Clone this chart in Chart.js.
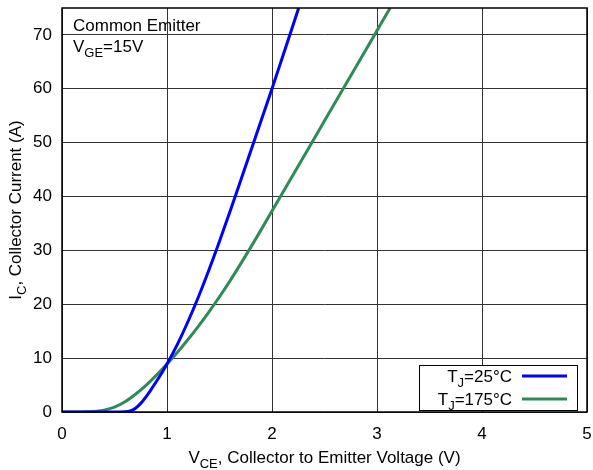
<!DOCTYPE html>
<html>
<head>
<meta charset="utf-8">
<script src="https://cdn.jsdelivr.net/npm/chart.js@4"></script>
<style>
  html, body { margin: 0; padding: 0; background: #fff; }
</style>
</head>
<body>
<canvas id="icChart" width="593" height="470"></canvas>
<script>
// Output characteristics
const vce25 = [0, 0.55, 0.6, 0.65, 0.7, 0.75, 0.8, 0.85, 0.9, 0.95, 1.0, 1.1, 1.2, 1.3, 1.4, 1.5, 1.6, 1.7, 1.8, 1.9, 2.0, 2.1, 2.2, 2.254];
const ic25  = [0, 0, 0.03, 0.2, 0.7, 1.6, 2.8, 4.2, 5.7, 7.25, 8.9, 12.6, 16.8, 21.4, 26.4, 31.7, 37.2, 42.9, 48.6, 54.3, 60.0, 65.9, 71.8, 75.0];

const vce175 = [0, 0.2, 0.3, 0.4, 0.5, 0.6, 0.7, 0.8, 0.9, 1.0, 1.1, 1.2, 1.3, 1.4, 1.5, 1.6, 1.7, 1.8, 1.9, 2.0, 2.1, 2.2, 2.3, 2.4, 2.5, 2.6, 2.7, 2.8, 2.9, 3.0, 3.1, 3.125];
const ic175  = [0, 0.02, 0.08, 0.35, 0.9, 1.9, 3.3, 4.95, 6.85, 8.9, 11.1, 13.45, 15.95, 18.6, 21.4, 24.35, 27.45, 30.65, 33.95, 37.3, 40.65, 44.0, 47.35, 50.7, 54.05, 57.4, 60.75, 64.1, 67.45, 70.8, 74.15, 75.0];

const xTicks = [0, 1, 2, 3, 4, 5];
const yTicks = [0, 10, 20, 30, 40, 50, 60, 70];

const FONT = '"Liberation Sans", Arial, sans-serif';

function points(xs, ys) {
    return xs.map((x, i) => ({ x: x, y: ys[i] }));
}

// draw text with subscripts: parts = [{t:'V'}, {t:'CE', sub:true}, ...]
function drawRich(ctx, parts, x, y, align, size) {
    const big = size + 'px ' + FONT;
    const small = Math.round(size * 0.78) + 'px ' + FONT;
    let w = 0;
    parts.forEach(p => {
        ctx.font = p.sub ? small : big;
        p.w = ctx.measureText(p.t).width;
        w += p.w;
    });
    let cx = x;
    if (align === 'center') cx = x - w / 2;
    if (align === 'right') cx = x - w;
    ctx.textAlign = 'left';
    ctx.textBaseline = 'alphabetic';
    parts.forEach(p => {
        ctx.font = p.sub ? small : big;
        ctx.fillText(p.t, cx, p.sub ? y + 5 : y);
        cx += p.w;
    });
}

const decorations = {
    id: 'decorations',
    afterDraw(chart) {
        const ctx = chart.ctx;
        const a = chart.chartArea;
        ctx.save();
        ctx.fillStyle = '#000';

        // frame
        ctx.strokeStyle = '#000';
        ctx.lineWidth = 1.5;
        ctx.strokeRect(a.left, a.top, a.right - a.left, a.bottom - a.top);

        // notes
        drawRich(ctx, [{ t: 'Common Emitter' }], a.left + 11, a.top + 23, 'left', 17);
        drawRich(ctx, [{ t: 'V' }, { t: 'GE', sub: true }, { t: '=15V' }], a.left + 11, a.top + 44, 'left', 17);

        // legend
        const bx = 419, by = 365, bw = 158, bh = 45;
        ctx.fillStyle = '#fff';
        ctx.fillRect(bx, by, bw, bh);
        ctx.strokeStyle = '#000';
        ctx.lineWidth = 1;
        ctx.strokeRect(bx + 0.5, by + 0.5, bw, bh);
        const rows = [
            { parts: [{ t: 'T' }, { t: 'J', sub: true }, { t: '=25°C' }], ds: 0, y: 376 },
            { parts: [{ t: 'T' }, { t: 'J', sub: true }, { t: '=175°C' }], ds: 1, y: 399 }
        ];
        rows.forEach(r => {
            ctx.fillStyle = '#000';
            drawRich(ctx, r.parts, 512, r.y + 6, 'right', 17);
            ctx.strokeStyle = chart.data.datasets[r.ds].borderColor;
            ctx.lineWidth = 3;
            ctx.beginPath();
            ctx.moveTo(522, r.y);
            ctx.lineTo(567, r.y);
            ctx.stroke();
        });

        // axis titles
        ctx.fillStyle = '#000';
        drawRich(ctx, [{ t: 'V' }, { t: 'CE', sub: true }, { t: ', Collector to Emitter Voltage (V)' }],
            (a.left + a.right) / 2, 463, 'center', 17);
        ctx.save();
        ctx.translate(21, (a.top + a.bottom) / 2);
        ctx.rotate(-Math.PI / 2);
        drawRich(ctx, [{ t: 'I' }, { t: 'C', sub: true }, { t: ', Collector Current (A)' }], 0, 0, 'center', 17);
        ctx.restore();

        ctx.restore();
    }
};

new Chart(document.getElementById('icChart').getContext('2d'), {
    type: 'scatter',
    data: {
        datasets: [
            {
                label: 'TJ=25°C',
                data: points(vce25, ic25),
                showLine: true,
                borderColor: '#0000ff',
                borderWidth: 3,
                pointRadius: 0,
                cubicInterpolationMode: 'monotone'
            },
            {
                label: 'TJ=175°C',
                data: points(vce175, ic175),
                showLine: true,
                borderColor: '#2e8b57',
                borderWidth: 3,
                pointRadius: 0,
                cubicInterpolationMode: 'monotone'
            }
        ]
    },
    options: {
        responsive: false,
        animation: false,
        devicePixelRatio: 1,
        layout: { padding: { left: 0, right: 6, top: 8, bottom: 0 } },
        plugins: {
            legend: { display: false },
            tooltip: { enabled: false }
        },
        scales: {
            x: {
                type: 'linear',
                min: 0,
                max: 5,
                afterBuildTicks: s => { s.ticks = xTicks.map(v => ({ value: v })); },
                afterFit: s => { s.height = 58; s.paddingLeft = 0; s.paddingRight = 0; },
                grid: { color: '#333', lineWidth: 1, drawTicks: false },
                border: { display: false },
                ticks: { color: '#000', padding: 12, font: { family: FONT, size: 17 } }
            },
            y: {
                type: 'linear',
                min: 0,
                max: 75,
                afterBuildTicks: s => { s.ticks = yTicks.map(v => ({ value: v })); },
                afterFit: s => { s.width = 62; s.paddingTop = 0; s.paddingBottom = 0; },
                grid: { color: '#333', lineWidth: 1, drawTicks: false },
                border: { display: false },
                ticks: { color: '#000', padding: 10, font: { family: FONT, size: 17 } }
            }
        }
    },
    plugins: [decorations]
});
</script>
</body>
</html>
